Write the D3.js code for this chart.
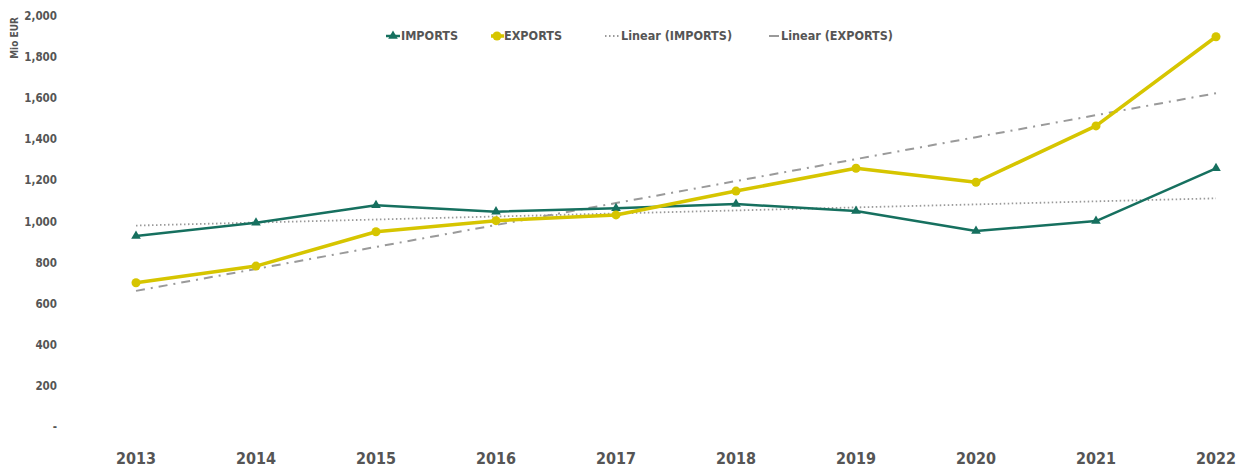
<!DOCTYPE html>
<html><head><meta charset="utf-8">
<script src="https://cdn.jsdelivr.net/npm/d3@7"></script>
<style>
html,body{margin:0;padding:0;background:#fff;}
text{font-family:"DejaVu Sans Condensed","Liberation Sans Narrow","Open Sans",sans-serif;font-weight:bold;fill:#555;}
</style></head>
<body>
<svg id="chart" width="1242" height="470"></svg>
<script>
const years = ["2013","2014","2015","2016","2017","2018","2019","2020","2021","2022"];
const imports = [929, 994, 1079, 1048, 1064, 1085, 1051, 954, 1002, 1259];
const exports_ = [702, 783, 950, 1004, 1032, 1148, 1259, 1191, 1465, 1899];
const yTicks = [0, 200, 400, 600, 800, 1000, 1200, 1400, 1600, 1800, 2000];
const legendLabels = ["IMPORTS", "EXPORTS", "Linear (IMPORTS)", "Linear (EXPORTS)"];

const impColor = "#16705f";
const expColor = "#d6c500";
const trendColor = "#9a9a9a";

const svg = d3.select("#chart");
const x = d3.scalePoint().domain(years).range([136, 1216]);
const y = d3.scaleLinear().domain([0, 2000]).range([427, 16]);

// y axis labels
const fmt = d3.format(",");
svg.append("g").selectAll("text").data(yTicks).join("text")
  .attr("x", 57).attr("y", d => y(d)).attr("dy", "0.35em")
  .attr("text-anchor", "end").attr("font-size", 11.5)
  .text(d => d === 0 ? "-" : fmt(d));

svg.append("text").attr("transform", "translate(18,38) rotate(-90)")
  .attr("text-anchor", "middle").attr("font-size", 10).text("Mio EUR");

// x axis labels
svg.append("g").selectAll("text").data(years).join("text")
  .attr("x", d => x(d)).attr("y", 464).attr("text-anchor", "middle")
  .attr("font-size", 16).attr("fill", "#4a4a4a").text(d => d);

// linear fit
function fit(vals) {
  const n = vals.length, xm = (n - 1) / 2, ym = d3.mean(vals);
  let sxy = 0, sxx = 0;
  vals.forEach((v, i) => { sxy += (i - xm) * (v - ym); sxx += (i - xm) ** 2; });
  const b = sxy / sxx, a = ym - b * xm;
  return years.map((yr, i) => ({ yr, v: a + b * i }));
}
const line = d3.line().x(d => x(d.yr)).y(d => y(d.v));

svg.append("path").datum(fit(imports)).attr("d", line).attr("fill", "none")
  .attr("stroke", trendColor).attr("stroke-width", 1.8).attr("stroke-dasharray", "1.5,2.5");
svg.append("path").datum(fit(exports_)).attr("d", line).attr("fill", "none")
  .attr("stroke", trendColor).attr("stroke-width", 2).attr("stroke-dasharray", "9,6,2,6");

const impData = years.map((yr, i) => ({ yr, v: imports[i] }));
const expData = years.map((yr, i) => ({ yr, v: exports_[i] }));

svg.append("path").datum(impData).attr("d", line).attr("fill", "none")
  .attr("stroke", impColor).attr("stroke-width", 2.5).attr("stroke-linejoin", "round");
svg.append("path").datum(expData).attr("d", line).attr("fill", "none")
  .attr("stroke", expColor).attr("stroke-width", 3.5).attr("stroke-linejoin", "round");

const tri = d3.symbol().type(d3.symbolTriangle).size(40);
svg.append("g").selectAll("path").data(impData).join("path")
  .attr("d", tri).attr("transform", d => `translate(${x(d.yr)},${y(d.v)})`).attr("fill", impColor);
svg.append("g").selectAll("circle").data(expData).join("circle")
  .attr("cx", d => x(d.yr)).attr("cy", d => y(d.v)).attr("r", 4.5).attr("fill", expColor);

// legend
const lg = svg.append("g");
const ly = 36;
// imports
lg.append("line").attr("x1", 386).attr("x2", 400).attr("y1", ly).attr("y2", ly).attr("stroke", impColor).attr("stroke-width", 2.5);
lg.append("path").attr("d", tri).attr("transform", `translate(393,${ly})`).attr("fill", impColor);
lg.append("text").attr("x", 401).attr("y", ly).attr("dy", "0.35em").attr("font-size", 12.5).text(legendLabels[0]);
// exports
lg.append("line").attr("x1", 491).attr("x2", 504).attr("y1", ly).attr("y2", ly).attr("stroke", expColor).attr("stroke-width", 3.5);
lg.append("circle").attr("cx", 497).attr("cy", ly).attr("r", 4.5).attr("fill", expColor);
lg.append("text").attr("x", 504).attr("y", ly).attr("dy", "0.35em").attr("font-size", 12.5).text(legendLabels[1]);
// linear imports
lg.append("line").attr("x1", 605).attr("x2", 619).attr("y1", ly).attr("y2", ly).attr("stroke", trendColor).attr("stroke-width", 1.8).attr("stroke-dasharray", "1.5,2.5");
lg.append("text").attr("x", 621).attr("y", ly).attr("dy", "0.35em").attr("font-size", 12.5).text(legendLabels[2]);
// linear exports
lg.append("line").attr("x1", 769).attr("x2", 779).attr("y1", ly).attr("y2", ly).attr("stroke", trendColor).attr("stroke-width", 2);
lg.append("text").attr("x", 781).attr("y", ly).attr("dy", "0.35em").attr("font-size", 12.5).text(legendLabels[3]);
</script>
</body></html>
